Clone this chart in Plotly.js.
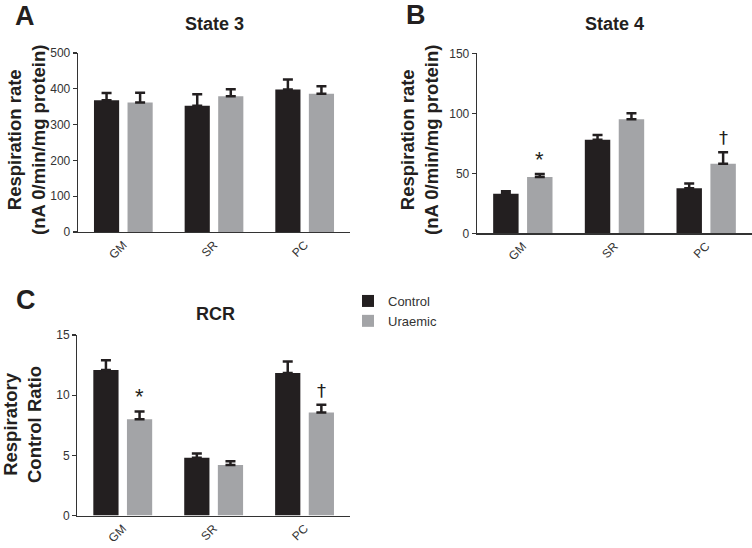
<!DOCTYPE html>
<html>
<head>
<meta charset="utf-8">
<script src="https://cdn.plot.ly/plotly-3.0.1.min.js"></script>
<style>html,body{margin:0;padding:0;background:#fff;}#chart{width:752px;height:548px;}</style>
</head>
<body>
<div id="chart"></div>
<script>
const categories = ["GM", "SR", "PC"];
const seriesNames = ["Control", "Uraemic"];

const state3Control = [368, 353, 398];
const state3ControlErr = [20, 32, 28];
const state3Uraemic = [362, 379, 386];
const state3UraemicErr = [27, 20, 21];

const state4Control = [33, 78, 37.5];
const state4ControlErr = [2, 4, 4];
const state4Uraemic = [47, 95, 58];
const state4UraemicErr = [2.5, 5, 9.5];

const rcrControl = [12.1, 4.8, 11.85];
const rcrControlErr = [0.8, 0.35, 0.95];
const rcrUraemic = [8.0, 4.2, 8.55];
const rcrUraemicErr = [0.65, 0.3, 0.65];

const state3Ticks = [0, 100, 200, 300, 400, 500];
const state4Ticks = [0, 50, 100, 150];
const rcrTicks = [0, 5, 10, 15];

const colControl = "#231f20";
const colUraemic = "#a3a4a7";
const font = "Liberation Sans, Arial, sans-serif";
const symFont = "DejaVu Sans, Liberation Sans, sans-serif";

function bar(name, ys, errs, color, xa, ya, show) {
  return {
    type: "bar", name: name, x: categories, y: ys,
    xaxis: xa, yaxis: ya, legendgroup: name, showlegend: show,
    marker: {color: color, line: {width: 0}},
    error_y: {type: "data", array: errs, arrayminus: errs.map(() => 0), symmetric: false,
              color: colControl, thickness: 2.5, width: 5},
    hoverinfo: "skip"
  };
}

const data = [
  bar(seriesNames[0], state3Control, state3ControlErr, colControl, "x", "y", true),
  bar(seriesNames[1], state3Uraemic, state3UraemicErr, colUraemic, "x", "y", true),
  bar(seriesNames[0], state4Control, state4ControlErr, colControl, "x2", "y2", false),
  bar(seriesNames[1], state4Uraemic, state4UraemicErr, colUraemic, "x2", "y2", false),
  bar(seriesNames[0], rcrControl, rcrControlErr, colControl, "x3", "y3", false),
  bar(seriesNames[1], rcrUraemic, rcrUraemicErr, colUraemic, "x3", "y3", false)
];

function xax(domain, anchor) {
  return {domain: domain, anchor: anchor, type: "category", range: [-0.5, 2.5],
          showline: true, linecolor: "#333", linewidth: 1.3, ticks: "", showgrid: false,
          zeroline: false, tickangle: -45, tickfont: {family: font, size: 12, color: "#333"},
          fixedrange: true};
}
function yax(domain, anchor, range, ticks) {
  return {domain: domain, anchor: anchor, range: range, tickvals: ticks,
          showline: true, linecolor: "#333", linewidth: 1.3, ticks: "outside", ticklen: 4,
          tickcolor: "#333", tickwidth: 1.2, showgrid: false, zeroline: false,
          tickfont: {family: font, size: 12, color: "#333"}, fixedrange: true};
}

const W = 752, H = 548;
const px = v => v / W, py = v => 1 - v / H;

function txt(x, y, text, size, opts) {
  return Object.assign({xref: "paper", yref: "paper", x: px(x), y: py(y), text: text,
    showarrow: false, xanchor: "center", yanchor: "middle",
    font: {family: font, size: size, color: "#231f20"}}, opts || {});
}

const annotations = [
  txt(25, 16, "<b>A</b>", 27),
  txt(416, 15, "<b>B</b>", 27),
  txt(26, 300, "<b>C</b>", 27),
  txt(214, 24, "<b>State 3</b>", 18),
  txt(614, 24, "<b>State 4</b>", 18),
  txt(215, 314, "<b>RCR</b>", 18),
  txt(26, 140, "<b>Respiration rate<br>(nA 0/min/mg protein)</b>", 18.5, {textangle: -90}),
  txt(419, 140, "<b>Respiration rate<br>(nA 0/min/mg protein)</b>", 18.5, {textangle: -90}),
  txt(22, 425, "<b>Respiratory<br>Control Ratio</b>", 18.5, {textangle: -90}),
  {xref: "x2", yref: "y2", x: categories[0], y: state4Uraemic[0] + state4UraemicErr[0], xshift: 17,
   yanchor: "bottom", yshift: 0, text: "*", showarrow: false, font: {family: font, size: 22, color: "#231f20"}},
  {xref: "x2", yref: "y2", x: categories[2], y: state4Uraemic[2] + state4UraemicErr[2], xshift: 17,
   yanchor: "bottom", yshift: 2, text: "†", showarrow: false, font: {family: symFont, size: 18, color: "#231f20"}},
  {xref: "x3", yref: "y3", x: categories[0], y: rcrUraemic[0] + rcrUraemicErr[0], xshift: 17,
   yanchor: "bottom", yshift: 0, text: "*", showarrow: false, font: {family: font, size: 22, color: "#231f20"}},
  {xref: "x3", yref: "y3", x: categories[2], y: rcrUraemic[2] + rcrUraemicErr[2], xshift: 17,
   yanchor: "bottom", yshift: 2, text: "†", showarrow: false, font: {family: symFont, size: 18, color: "#231f20"}}
];

const layout = {
  width: W, height: H,
  margin: {l: 0, r: 0, t: 0, b: 0},
  paper_bgcolor: "#fff", plot_bgcolor: "#fff",
  barmode: "group", bargap: 0.26, bargroupgap: 0.25,
  showlegend: true,
  legend: {x: px(348), y: py(286), xanchor: "left", yanchor: "top",
           font: {family: font, size: 13, color: "#333"}, bgcolor: "rgba(0,0,0,0)",
           tracegroupgap: 0, itemclick: false, itemdoubleclick: false},
  xaxis: xax([px(78), px(350)], "y"),
  yaxis: yax([py(232), py(53)], "x", [0, 500], state3Ticks),
  xaxis2: xax([px(477), 1], "y2"),
  yaxis2: yax([py(233.3), py(53.3)], "x2", [0, 150], state4Ticks),
  xaxis3: xax([px(77.3), px(350)], "y3"),
  yaxis3: yax([py(515.5), py(335)], "x3", [0, 15], rcrTicks),
  annotations: annotations
};

Plotly.newPlot("chart", data, layout, {displayModeBar: false, staticPlot: true});
</script>
</body>
</html>
